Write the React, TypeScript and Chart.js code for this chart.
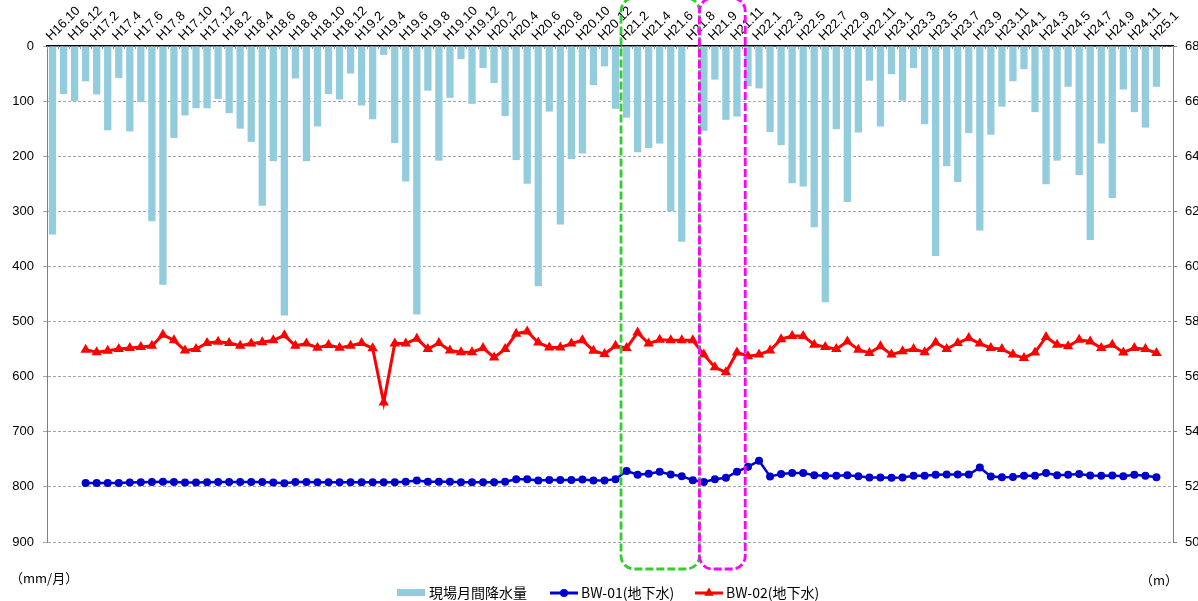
import React, { useEffect, useRef } from 'react';
import { Chart, registerables } from 'chart.js';

Chart.register(...registerables);

// Category labels (one per month; the extra slot after H21.8 is a second H21.8 measurement)
const months: string[] = [
  'H16.10', 'H16.11', 'H16.12',
  'H17.1', 'H17.2', 'H17.3', 'H17.4', 'H17.5', 'H17.6', 'H17.7', 'H17.8', 'H17.9', 'H17.10', 'H17.11', 'H17.12',
  'H18.1', 'H18.2', 'H18.3', 'H18.4', 'H18.5', 'H18.6', 'H18.7', 'H18.8', 'H18.9', 'H18.10', 'H18.11', 'H18.12',
  'H19.1', 'H19.2', 'H19.3', 'H19.4', 'H19.5', 'H19.6', 'H19.7', 'H19.8', 'H19.9', 'H19.10', 'H19.11', 'H19.12',
  'H20.1', 'H20.2', 'H20.3', 'H20.4', 'H20.5', 'H20.6', 'H20.7', 'H20.8', 'H20.9', 'H20.10', 'H20.11', 'H20.12',
  'H21.1', 'H21.2', 'H21.3', 'H21.4', 'H21.5', 'H21.6', 'H21.7', 'H21.8', 'H21.8', 'H21.9', 'H21.10', 'H21.11', 'H21.12',
  'H22.1', 'H22.2', 'H22.3', 'H22.4', 'H22.5', 'H22.6', 'H22.7', 'H22.8', 'H22.9', 'H22.10', 'H22.11', 'H22.12',
  'H23.1', 'H23.2', 'H23.3', 'H23.4', 'H23.5', 'H23.6', 'H23.7', 'H23.8', 'H23.9', 'H23.10', 'H23.11', 'H23.12',
  'H24.1', 'H24.2', 'H24.3', 'H24.4', 'H24.5', 'H24.6', 'H24.7', 'H24.8', 'H24.9', 'H24.10', 'H24.11', 'H24.12',
  'H25.1', 'H25.2',
];

// 現場月間降水量 (mm/月)
const rainfall: (number | null)[] = [
  342, 87, 100, 64, 88, 153, 58, 155, 102, 318,
  433, 167, 126, 113, 113, 96, 122, 150, 174, 290,
  209, 489, 59, 209, 146, 87, 97, 50, 108, 133,
  16, 176, 246, 487, 81, 208, 94, 24, 105, 40,
  67, 127, 207, 250, 436, 119, 324, 205, 195, 71,
  37, 114, 130, 193, 185, 177, 300, 355, null, 154,
  61, 134, 128, 73, 77, 156, 180, 249, 255, 329,
  465, 151, 283, 157, 63, 146, 51, 99, 40, 142,
  381, 218, 247, 158, 335, 161, 110, 64, 42, 120,
  251, 208, 74, 234, 352, 177, 276, 79, 120, 148,
  74, null,
];

// BW-01(地下水) (m)
const bw01: (number | null)[] = [
  null, null, null,
  52.14, 52.14, 52.14, 52.14, 52.16, 52.17, 52.18, 52.19, 52.18, 52.16,
  52.16, 52.17, 52.18, 52.18, 52.18, 52.18, 52.18, 52.16, 52.13, 52.18,
  52.18, 52.17, 52.17, 52.17, 52.17, 52.17, 52.17, 52.17, 52.17, 52.19,
  52.23, 52.19, 52.19, 52.19, 52.17, 52.17, 52.17, 52.17, 52.19, 52.28,
  52.28, 52.23, 52.25, 52.25, 52.25, 52.27, 52.23, 52.23, 52.28, 52.58,
  52.44, 52.48, 52.55, 52.45, 52.39, 52.24, 52.18, 52.28, 52.33, 52.55,
  52.73, 52.95, 52.38, 52.47, 52.5, 52.5, 52.42, 52.4, 52.4, 52.42,
  52.39, 52.34, 52.34, 52.33, 52.34, 52.4, 52.4, 52.44, 52.45, 52.45,
  52.45, 52.7, 52.38, 52.35, 52.36, 52.4, 52.4, 52.5, 52.42, 52.44,
  52.47, 52.41, 52.4, 52.41, 52.39, 52.44, 52.4, 52.35,
  null,
];

// BW-02(地下水) (m)
const bw02: (number | null)[] = [
  null, null, null,
  56.98, 56.89, 56.94, 57.0, 57.04, 57.08, 57.12, 57.52, 57.32, 56.95,
  57.0, 57.22, 57.27, 57.22, 57.12, 57.2, 57.25, 57.32, 57.5, 57.12,
  57.2, 57.05, 57.15, 57.05, 57.12, 57.22, 57.03, 55.06, 57.2, 57.2,
  57.38, 57.0, 57.22, 56.95, 56.89, 56.89, 57.04, 56.7, 57.0, 57.56,
  57.64, 57.24, 57.06, 57.06, 57.2, 57.32, 56.94, 56.82, 57.12, 57.04,
  57.6, 57.2, 57.34, 57.32, 57.32, 57.32, 56.8, 56.34, 56.16, 56.88,
  56.74, 56.8, 56.95, 57.36, 57.48, 57.48, 57.16, 57.08, 57.0, 57.28,
  56.98, 56.86, 57.1, 56.8, 56.92, 57.0, 56.89, 57.24, 57.0, 57.22,
  57.4, 57.2, 57.04, 57.0, 56.8, 56.68, 56.88, 57.44, 57.16, 57.1,
  57.34, 57.28, 57.04, 57.16, 56.88, 57.04, 57.0, 56.86,
  null,
];

// Highlight periods, in category-index units
const greenBox = [51.5, 58.6];
const magentaBox = [58.6, 62.75];

const RAIN_COLOR = '#93CDDD';
const BLUE = '#0000CC';
const RED = '#FF0000';
const CJK = '"Noto Sans CJK JP", "Liberation Sans", sans-serif';
const NUM = '"Liberation Sans", Arial, sans-serif';

function roundRectPath(ctx: CanvasRenderingContext2D, x: number, y: number, w: number, h: number, r: number) {
  ctx.beginPath();
  ctx.moveTo(x + r, y);
  ctx.lineTo(x + w - r, y);
  ctx.arcTo(x + w, y, x + w, y + r, r);
  ctx.lineTo(x + w, y + h - r);
  ctx.arcTo(x + w, y + h, x + w - r, y + h, r);
  ctx.lineTo(x + r, y + h);
  ctx.arcTo(x, y + h, x, y + h - r, r);
  ctx.lineTo(x, y + r);
  ctx.arcTo(x, y, x + r, y, r);
  ctx.closePath();
}

const overlayPlugin = {
  id: 'overlay',
  afterDatasetsDraw(chart: any) {
    const { ctx, chartArea, scales } = chart;
    const xs = scales.x;
    ctx.save();
    // small inner tick marks on the top axis
    ctx.strokeStyle = '#9a9a9a';
    ctx.lineWidth = 1;
    for (let i = 0; i <= months.length; i++) {
      const px = Math.round(xs.getPixelForValue(i - 0.5)) + 0.5;
      ctx.beginPath();
      ctx.moveTo(px, chartArea.top);
      ctx.lineTo(px, chartArea.top + 3);
      ctx.stroke();
    }
    // dashed highlight boxes
    const top = -2;
    const bottom = chartArea.bottom + 27;
    const drawBox = (range: number[], color: string) => {
      const x1 = xs.getPixelForValue(range[0]);
      const x2 = xs.getPixelForValue(range[1]);
      ctx.strokeStyle = color;
      ctx.lineWidth = 2.8;
      ctx.setLineDash([8, 3]);
      roundRectPath(ctx, x1, top, x2 - x1, bottom - top, 13);
      ctx.stroke();
    };
    drawBox(greenBox, '#33CC33');
    drawBox(magentaBox, '#FF00FF');
    ctx.restore();
  },
  afterDraw(chart: any) {
    const { ctx } = chart;
    ctx.save();
    ctx.fillStyle = '#000';
    ctx.textBaseline = 'middle';
    ctx.textAlign = 'left';
    ctx.font = `13px ${CJK}`;
    // unit labels
    ctx.fillText('（mm/月）', 10, 578);
    ctx.fillText('（m）', 1140, 580);

    // legend
    const ly = 593;
    ctx.font = `14px ${CJK}`;
    ctx.fillStyle = RAIN_COLOR;
    ctx.fillRect(397, ly - 4, 28, 7);
    ctx.fillStyle = '#000';
    ctx.fillText('現場月間降水量', 429, ly);

    ctx.strokeStyle = BLUE;
    ctx.lineWidth = 3;
    ctx.beginPath();
    ctx.moveTo(550, ly);
    ctx.lineTo(578, ly);
    ctx.stroke();
    ctx.fillStyle = BLUE;
    ctx.beginPath();
    ctx.arc(564, ly, 4, 0, Math.PI * 2);
    ctx.fill();
    ctx.fillStyle = '#000';
    ctx.fillText('BW-01(地下水)', 581, ly);

    ctx.strokeStyle = RED;
    ctx.beginPath();
    ctx.moveTo(695, ly);
    ctx.lineTo(723, ly);
    ctx.stroke();
    ctx.fillStyle = RED;
    const r = 5.5;
    ctx.beginPath();
    ctx.moveTo(709, ly - r);
    ctx.lineTo(709 + r * 0.866, ly + r * 0.5);
    ctx.lineTo(709 - r * 0.866, ly + r * 0.5);
    ctx.closePath();
    ctx.fill();
    ctx.fillStyle = '#000';
    ctx.fillText('BW-02(地下水)', 726, ly);
    ctx.restore();
  },
};

export default function App() {
  const canvasRef = useRef<HTMLCanvasElement | null>(null);

  useEffect(() => {
    document.body.style.margin = '0';
    const canvas = canvasRef.current;
    if (!canvas) return;
    const chart = new Chart(canvas, {
      type: 'bar',
      data: {
        labels: months,
        datasets: [
          {
            type: 'line',
            label: 'BW-02(地下水)',
            data: bw02,
            yAxisID: 'y1',
            borderColor: RED,
            backgroundColor: RED,
            borderWidth: 3,
            pointStyle: 'triangle',
            pointRadius: 6,
            pointBorderWidth: 0,
            tension: 0,
            order: 0,
          } as any,
          {
            type: 'line',
            label: 'BW-01(地下水)',
            data: bw01,
            yAxisID: 'y1',
            borderColor: BLUE,
            backgroundColor: BLUE,
            borderWidth: 2.5,
            pointStyle: 'circle',
            pointRadius: 4,
            pointBorderWidth: 0,
            tension: 0,
            order: 1,
          } as any,
          {
            type: 'bar',
            label: '現場月間降水量',
            data: rainfall,
            yAxisID: 'y',
            backgroundColor: RAIN_COLOR,
            barPercentage: 0.66,
            categoryPercentage: 1,
            order: 2,
          } as any,
        ],
      },
      options: {
        animation: false,
        responsive: false,
        layout: { padding: { left: 0, right: 0, top: 0, bottom: 59 } },
        plugins: {
          legend: { display: false },
          tooltip: { enabled: false },
        },
        scales: {
          x: {
            position: 'top',
            grid: { display: false, drawTicks: false },
            border: { display: true, color: '#000', width: 1.5 },
            ticks: {
              autoSkip: false,
              minRotation: 45,
              maxRotation: 45,
              padding: 2,
              labelOffset: 7,
              color: '#000',
              font: { family: NUM, size: 13 },
              callback: (_v: any, i: number) => (i % 2 === 0 ? months[i] : ''),
            },
            afterFit: (s: any) => {
              s.height = 46;
              s.paddingLeft = 0;
              s.paddingRight = 0;
            },
          },
          y: {
            position: 'left',
            reverse: true,
            min: 0,
            max: 900,
            ticks: { stepSize: 100, color: '#000', padding: 9, font: { family: NUM, size: 13 } },
            grid: { color: '#a6a6a6', lineWidth: 1, tickLength: 4 },
            border: { display: true, color: '#808080', width: 1, dash: [3, 2] },
            afterFit: (s: any) => {
              s.width = 47;
            },
          },
          y1: {
            position: 'right',
            min: 50,
            max: 68,
            ticks: { stepSize: 2, color: '#000', padding: 8, font: { family: NUM, size: 13 } },
            grid: { drawOnChartArea: false, color: '#808080', tickLength: 4 },
            border: { display: true, color: '#808080', width: 1 },
            afterFit: (s: any) => {
              s.width = 25;
            },
          },
        },
      } as any,
      plugins: [overlayPlugin],
    });
    return () => chart.destroy();
  }, []);

  return (
    <div style={{ width: 1198, height: 601, position: 'relative', background: '#fff' }}>
      <canvas ref={canvasRef} width={1198} height={601} style={{ display: 'block' }} />
    </div>
  );
}
